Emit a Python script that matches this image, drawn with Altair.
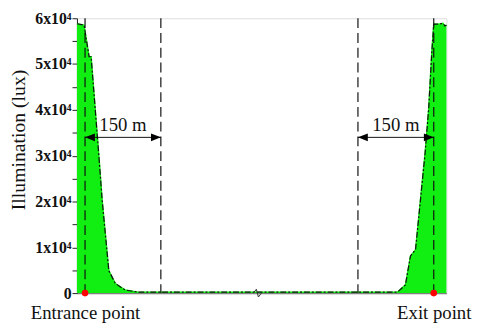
import altair as alt
import pandas as pd

# Illumination profile along the tunnel (distance in m from entrance, lux)
curve_x = [-16, -2, 8, 12, 27, 34, 47, 60, 79, 105, 200, 330, 350, 500, 618, 634, 644, 654, 673, 680, 686, 690, 699, 708, 712, 715]
curve_y = [58800, 58500, 51600, 51600, 30400, 20100, 4900, 2100, 700, 200, 200, 200, 200, 200, 200, 1800, 8100, 9500, 30700, 40300, 52300, 58700, 58700, 58900, 58300, 58500]

# Key positions
point_x = [0, 690]                 # entrance / exit points
point_names = ["Entrance point", "Exit point"]
dash_x = [0, 150, 540, 690]        # dashed reference lines
span_start = [0, 540]
span_end = [150, 690]
span_label = ["150 m", "150 m"]
span_y = 34000
label_y = 35400

# axis break symbol
brk_x = [333, 339, 343, 349]
brk_y = [0, 850, -850, 0]

y_ticks = [0, 5000, 10000, 15000, 20000, 25000, 30000, 35000, 40000, 45000, 50000, 55000, 60000]

FONT = "Liberation Serif"
GREEN = "#11ee11"

curve = pd.DataFrame({"x": curve_x, "y": curve_y})
pts = pd.DataFrame({"x": point_x, "y": [0, 0]})
dashes = pd.DataFrame({"x": dash_x})
spans = pd.DataFrame({"x": span_start, "x2": span_end, "y": [span_y] * 2,
                      "mid": [(a + b) / 2 for a, b in zip(span_start, span_end)],
                      "ly": [label_y] * 2, "label": span_label})
brk = pd.DataFrame({"x": brk_x, "y": brk_y})

xs = alt.Scale(domain=[-16, 715], nice=False, zero=False)
ys = alt.Scale(domain=[0, 60000], nice=False)

xaxis = alt.Axis(values=point_x, title=None, grid=False, ticks=False,
                 labelExpr="datum.value == 0 ? '" + point_names[0] + "' : '" + point_names[1] + "'",
                 labelFont=FONT, labelFontSize=19, labelColor="#111111", labelPadding=11,
                 labelOverlap=False, labelBound=False, labelFlush=False,
                 domainColor="#808080", domainWidth=1.5)
yaxis = alt.Axis(values=y_ticks, title="Illumination (lux)", grid=False,
                 labelExpr="datum.value == 0 ? '0' : (datum.value % 10000 == 0 ? format(datum.value/10000, 'd') + 'x10\u2074' : '')",
                 labelFont=FONT, labelFontSize=16, labelFontWeight="bold", labelColor="#111111",
                 labelPadding=1, tickSize=5, tickColor="#222222", domainColor="#222222",
                 titleFont=FONT, titleFontSize=20, titleFontWeight="normal", titleColor="#111111",
                 titleAngle=270, titleBaseline="middle", titleAlign="center",
                 titleX=-59, titleY=123)

X = alt.X("x:Q", scale=xs, axis=xaxis)
Y = alt.Y("y:Q", scale=ys, axis=yaxis)

area = alt.Chart(curve).mark_area(color=GREEN, opacity=1).encode(x=X, y=Y)
gline = alt.Chart(curve).mark_line(color=GREEN, strokeWidth=1.5).encode(x=X, y=Y)
bline = alt.Chart(curve).mark_line(color="#111111", strokeWidth=1.2, strokeDash=[6, 2, 2, 2]).encode(x=X, y=Y)

vrules = alt.Chart(dashes).mark_rule(color="#111111", strokeWidth=1.2, strokeDash=[10, 5]).encode(x=X)

arrows = alt.Chart(spans).mark_rule(color="#111111", strokeWidth=1).encode(x=X, x2="x2:Q", y=Y)
head_l = alt.Chart(spans).mark_point(shape="M0,0L1,-0.4L1,0.4Z", size=400, filled=True,
                                     color="#000000", opacity=1).encode(x=X, y=Y)
head_r = alt.Chart(spans).mark_point(shape="M0,0L-1,-0.4L-1,0.4Z", size=400, filled=True,
                                     color="#000000", opacity=1).encode(
    x=alt.X("x2:Q", scale=xs, axis=xaxis), y=Y)
span_text = alt.Chart(spans).mark_text(font=FONT, fontSize=19, color="#111111",
                                       baseline="alphabetic", align="center").encode(
    x=alt.X("mid:Q", scale=xs, axis=xaxis), y=alt.Y("ly:Q", scale=ys, axis=yaxis), text="label:N")

brk_line = alt.Chart(brk).mark_line(color="#333333", strokeWidth=1).encode(x=X, y=Y)

dots = alt.Chart(pts).mark_point(shape="circle", size=45, filled=True, color="#ff0000", opacity=1).encode(x=X, y=Y)

chart = alt.layer(area, gline, bline, vrules, arrows, head_l, head_r, span_text, brk_line, dots).properties(
    width=375, height=279,
    autosize=alt.AutoSizeParams(type="none"),
    padding={"left": 70, "top": 8, "right": 26, "bottom": 33},
).configure_view(stroke=None).configure(background="white")

chart.save("out.html", embed_options={"renderer": "svg", "actions": False})
